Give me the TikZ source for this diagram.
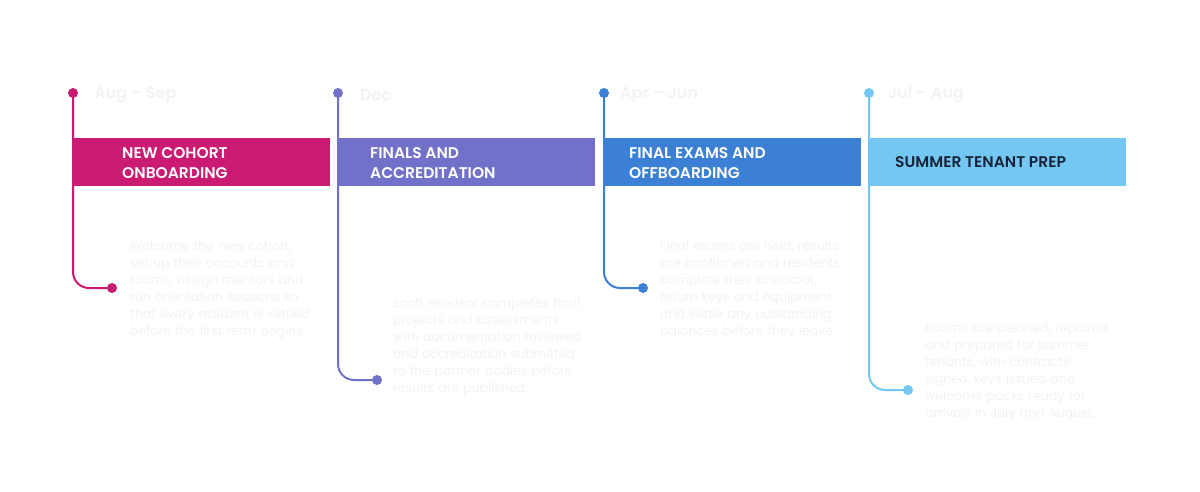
\documentclass[tikz,border=0pt]{standalone}
\usepackage{fontspec}
\setmainfont{Poppins}
\newfontfamily\barfont{Poppins SemiBold}
\hyphenpenalty=10000
\exhyphenpenalty=10000
\definecolor{cA}{HTML}{CB1A72}
\definecolor{cB}{HTML}{7171CA}
\definecolor{cC}{HTML}{3C80D5}
\definecolor{cD}{HTML}{74C7F2}
\definecolor{faint}{HTML}{F3F3F3}
\definecolor{darktxt}{HTML}{16243A}
\tikzset{
  bar/.style={fill=#1, draw=none, minimum width=257pt, minimum height=48pt, anchor=north west, inner sep=0pt},
  bartext/.style={font=\barfont\fontsize{15.5}{20}\selectfont, text=white, align=left, anchor=west, inner sep=0pt},
  datelbl/.style={font=\barfont\fontsize{16}{18}\selectfont, text=faint, anchor=west, inner sep=0pt},
  desc/.style={font=\fontsize{12.5}{17}\selectfont, text=faint, align=left, text width=190pt, anchor=north west, inner sep=0pt},
  dot/.style={circle, fill=#1, minimum size=10pt, inner sep=0pt},
  wire/.style={draw=#1, line width=2pt, rounded corners=16pt},
}
\begin{document}
\begin{tikzpicture}[x=1pt,y=-1pt]
\useasboundingbox (0,0) rectangle (1200,492);
\fill[white] (0,0) rectangle (1200,492);
% bars
\node[bar=cA] (b1) at (73,138) {};
\node[bar=cB] (b2) at (338,138) {};
\node[bar=cC] (b3) at (604,138) {};
\node[bar=cD] (b4) at (869,138) {};
\node[bartext] (t1) at (122,163) {NEW COHORT\\ONBOARDING};
\node[bartext] (t2) at (370,163) {FINALS AND\\ACCREDITATION};
\node[bartext] (t3) at (629,163) {FINAL EXAMS AND\\OFFBOARDING};
\node[bartext, text=darktxt] (t4) at (895,162) {SUMMER TENANT PREP};
% top dots
\node[dot=cA] (d1) at (73,93) {};
\node[dot=cB] (d2) at (338,93) {};
\node[dot=cC] (d3) at (604,93) {};
\node[dot=cD] (d4) at (869,93) {};
% end dots
\node[dot=cA] (e1) at (112,288) {};
\node[dot=cB] (e2) at (377,380) {};
\node[dot=cC] (e3) at (643,288) {};
\node[dot=cD] (e4) at (908,390) {};
% wires
\draw[wire=cA] (d1.center) |- (e1.center);
\draw[wire=cB] (d2.center) |- (e2.center);
\draw[wire=cC] (d3.center) |- (e3.center);
\draw[wire=cD] (d4.center) |- (e4.center);
% date labels
\node[datelbl] (l1) at (94,95) {Aug – Sep};
\node[datelbl] (l2) at (360,95) {Dec};
\node[datelbl] (l3) at (620,95) {Apr – Jun};
\node[datelbl] (l4) at (888,95) {Jul – Aug};
% descriptions
\node[desc] (x1) at (130,241) {Welcome the new cohort, set up their accounts and rooms, assign mentors and run orientation sessions so that every resident is settled before the first term begins.};
\node[desc] (x2) at (393,298) {Each resident completes final projects and assessments, with documentation reviewed and accreditation submitted to the partner bodies before results are published.};
\node[desc] (x3) at (660,241) {Final exams are held, results are confirmed and residents complete their checkout, return keys and equipment and settle any outstanding balances before they leave.};
\node[desc] (x4) at (925,323) {Rooms are cleaned, repaired and prepared for summer tenants, with contracts signed, keys issued and welcome packs ready for arrivals in July and August.};
\end{tikzpicture}
\end{document}
